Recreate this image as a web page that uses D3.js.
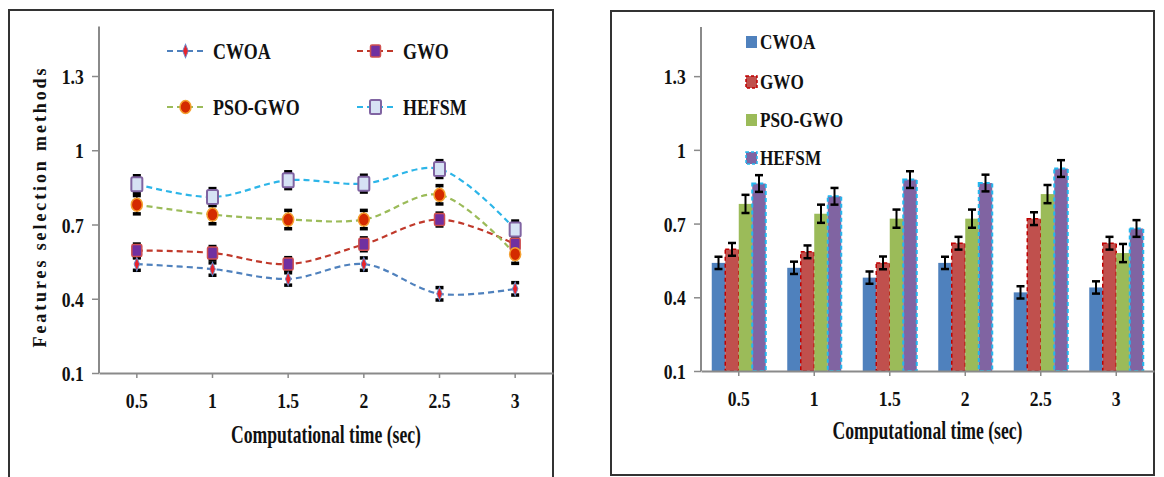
<!DOCTYPE html>
<html>
<head>
<meta charset="utf-8">
<script src="https://cdn.jsdelivr.net/npm/d3@7"></script>
<style>
  body { margin: 0; background: #fff; }
  svg text { font-family: "Liberation Serif", "Times New Roman", serif; font-weight: bold; fill: #111; }
</style>
</head>
<body>
<svg id="chart" width="1164" height="477"></svg>
<script>
// data
const times = ['0.5', '1', '1.5', '2', '2.5', '3'];
const seriesNames = ['CWOA', 'GWO', 'PSO-GWO', 'HEFSM'];
const cwoa = [0.54, 0.52, 0.48, 0.54, 0.42, 0.44];
const gwo = [0.595, 0.585, 0.54, 0.62, 0.72, 0.62];
const psoGwo = [0.78, 0.74, 0.72, 0.72, 0.82, 0.58];
const hefsm = [0.863, 0.811, 0.879, 0.865, 0.924, 0.68];
const errCwoa = [0.025, 0.025, 0.025, 0.025, 0.025, 0.025];
const errGwo = [0.026, 0.026, 0.026, 0.026, 0.026, 0.026];
const errPso = [0.037, 0.037, 0.037, 0.037, 0.037, 0.037];
const errHefsm = [0.034, 0.034, 0.034, 0.034, 0.034, 0.034];
const yTicks = [0.1, 0.4, 0.7, 1, 1.3];

const seriesValues = [cwoa, gwo, psoGwo, hefsm];
const seriesErrors = [errCwoa, errGwo, errPso, errHefsm];

// line styles for the left chart
const lineColours = ['#4F81BD', '#C0392B', '#9BBB59', '#2CB5E8'];
// bar styles for the right chart
const barFill = ['#4F81BD', '#C0504D', '#9BBB59', '#8064A2'];
const barStroke = ['none', '#C00000', 'none', '#22B8F0'];

const svg = d3.select('#chart');
const axisGrey = '#8a8a8a';

// panel frames
svg.append('rect').attr('x', 9).attr('y', 10).attr('width', 544).attr('height', 480)
  .attr('fill', 'none').attr('stroke', '#333').attr('stroke-width', 2);
svg.append('rect').attr('x', 611).attr('y', 11).attr('width', 543).attr('height', 464)
  .attr('fill', 'none').attr('stroke', '#333').attr('stroke-width', 2);

// draws both axes for a panel
const drawAxes = (g, x, y, titleY) => {
  const yAxis = g.append('g')
    .attr('transform', `translate(${x.range()[0]},0)`)
    .call(d3.axisLeft(y).tickValues(yTicks).tickFormat(d => String(d)).tickSize(7).tickSizeOuter(0));
  const xAxis = g.append('g')
    .attr('transform', `translate(0,${y(0.1)})`)
    .call(d3.axisBottom(x).tickSize(5).tickSizeOuter(0));
  [yAxis, xAxis].forEach(a => {
    a.select('.domain').attr('stroke', axisGrey).attr('stroke-width', 2);
    a.selectAll('.tick line').attr('stroke', axisGrey).attr('stroke-width', 1.5);
    a.selectAll('.tick text').attr('font-size', 22).attr('fill', '#111')
      .style('font-family', '"Liberation Serif", "Times New Roman", serif').style('font-weight', 'bold');
  });
  yAxis.selectAll('.tick text').attr('x', 0).attr('dx', '-19')
    .attr('transform', 'scale(0.8,1)').attr('dy', '0.35em');
  xAxis.selectAll('.tick text').attr('y', 19).attr('transform', 'scale(0.8,1)');
  yAxis.select('.domain').attr('d', `M0,${y(0.1)}V${y(1.5)}`);

  const r = x.range();
  g.append('text')
    .attr('x', (r[0] + r[1]) / 2).attr('y', titleY)
    .attr('text-anchor', 'middle').attr('font-size', 25)
    .attr('textLength', 190).attr('lengthAdjust', 'spacingAndGlyphs')
    .text('Computational time (sec)');
};

// ---------- left: line chart ----------
const left = svg.append('g');
const xL = d3.scaleBand().domain(times).range([99, 553]);
const yL = d3.scaleLinear().domain([0.1, 1.5]).range([373, 26.5]);
drawAxes(left, xL, yL, 443);

left.append('text')
  .attr('transform', 'translate(46,208) rotate(-90)')
  .attr('text-anchor', 'middle').attr('font-size', 18)
  .attr('textLength', 279).attr('lengthAdjust', 'spacing')
  .text('Features selection methods');

const cx = t => xL(t) + xL.bandwidth() / 2;
const line = d3.line().x((d, i) => cx(times[i])).y(d => yL(d)).curve(d3.curveCatmullRom.alpha(0.5));

seriesValues.forEach((vals, s) => {
  left.append('path').attr('d', line(vals))
    .attr('fill', 'none').attr('stroke', lineColours[s]).attr('stroke-width', 2.2)
    .attr('stroke-dasharray', '6,4');
});

// error bars for the lines
seriesValues.forEach((vals, s) => {
  const errs = seriesErrors[s];
  const eg = left.append('g').attr('stroke', '#000');
  vals.forEach((v, i) => {
    const x = cx(times[i]);
    eg.append('line').attr('x1', x).attr('x2', x)
      .attr('y1', yL(v + errs[i])).attr('y2', yL(v - errs[i])).attr('stroke-width', 1.5);
    [v + errs[i], v - errs[i]].forEach(e => {
      eg.append('line').attr('x1', x - 4).attr('x2', x + 4)
        .attr('y1', yL(e)).attr('y2', yL(e)).attr('stroke-width', 3.5);
    });
  });
});

// markers
const drawMarker = (g, s, x, y) => {
  if (s === 0) {
    g.append('path').attr('d', d3.symbol(d3.symbolDiamond, 42)())
      .attr('transform', `translate(${x},${y}) scale(0.8,1.15)`)
      .attr('fill', '#E8232B').attr('stroke', '#6A8FCF').attr('stroke-width', 1);
  } else if (s === 1) {
    g.append('rect').attr('x', x - 5).attr('y', y - 6).attr('width', 10).attr('height', 12).attr('rx', 1.5)
      .attr('fill', '#7030A0').attr('stroke', '#D05050').attr('stroke-width', 1.5);
  } else if (s === 2) {
    g.append('ellipse').attr('cx', x).attr('cy', y).attr('rx', 5.5).attr('ry', 6.5)
      .attr('fill', '#D42A00').attr('stroke', '#F5A030').attr('stroke-width', 1.5);
  } else {
    g.append('rect').attr('x', x - 5.5).attr('y', y - 7).attr('width', 11).attr('height', 14).attr('rx', 1.5)
      .attr('fill', '#D6E2F4').attr('stroke', '#8064A2').attr('stroke-width', 2);
  }
};

seriesValues.forEach((vals, s) => {
  const mg = left.append('g');
  vals.forEach((v, i) => drawMarker(mg, s, cx(times[i]), yL(v)));
});

// left legend
const legPosL = [[167, 51], [357, 51], [167, 107], [357, 107]];
seriesNames.forEach((name, s) => {
  const [lx, ly] = legPosL[s];
  const lg = left.append('g');
  lg.append('line').attr('x1', lx).attr('x2', lx + 37).attr('y1', ly).attr('y2', ly)
    .attr('stroke', lineColours[s]).attr('stroke-width', 2).attr('stroke-dasharray', '6,4');
  drawMarker(lg, s, lx + 18.5, ly);
  lg.append('text').attr('transform', `translate(${lx + 46},${ly + 8}) scale(0.78,1)`)
    .attr('font-size', 23).text(name);
});

// ---------- right: bar chart ----------
const right = svg.append('g');
const xR = d3.scaleBand().domain(times).range([701, 1154]);
const yR = d3.scaleLinear().domain([0.1, 1.5]).range([371, 27]);
const xSub = d3.scaleBand().domain(seriesNames).range([-27, 27]);

seriesValues.forEach((vals, s) => {
  const bg = right.append('g');
  vals.forEach((v, i) => {
    const x = xR(times[i]) + xR.bandwidth() / 2 + xSub(seriesNames[s]);
    bg.append('rect').attr('x', x).attr('y', yR(v))
      .attr('width', xSub.bandwidth()).attr('height', yR(0.1) - yR(v))
      .attr('fill', barFill[s]).attr('stroke', barStroke[s])
      .attr('stroke-width', s === 3 ? 2 : 1.5).attr('stroke-dasharray', '4,3');
  });
});

drawAxes(right, xR, yR, 439);

// bar error bars
seriesValues.forEach((vals, s) => {
  const errs = seriesErrors[s];
  const eg = right.append('g').attr('stroke', '#000');
  vals.forEach((v, i) => {
    const x = xR(times[i]) + xR.bandwidth() / 2 + xSub(seriesNames[s]) + xSub.bandwidth() / 2;
    eg.append('line').attr('x1', x).attr('x2', x)
      .attr('y1', yR(v + errs[i])).attr('y2', yR(v - errs[i])).attr('stroke-width', 2);
    [v + errs[i], v - errs[i]].forEach(e => {
      eg.append('line').attr('x1', x - 4).attr('x2', x + 4)
        .attr('y1', yR(e)).attr('y2', yR(e)).attr('stroke-width', 2.5);
    });
  });
});

// right legend
const legRowsR = [42, 82, 120, 158];
seriesNames.forEach((name, s) => {
  const ly = legRowsR[s];
  right.append('rect').attr('x', 746).attr('y', ly - 6).attr('width', 11).attr('height', 12)
    .attr('fill', barFill[s]).attr('stroke', barStroke[s])
    .attr('stroke-width', 1.5).attr('stroke-dasharray', '3,2');
  right.append('text').attr('transform', `translate(760,${ly + 7}) scale(0.86,1)`)
    .attr('font-size', 20).text(name);
});
</script>
</body>
</html>
